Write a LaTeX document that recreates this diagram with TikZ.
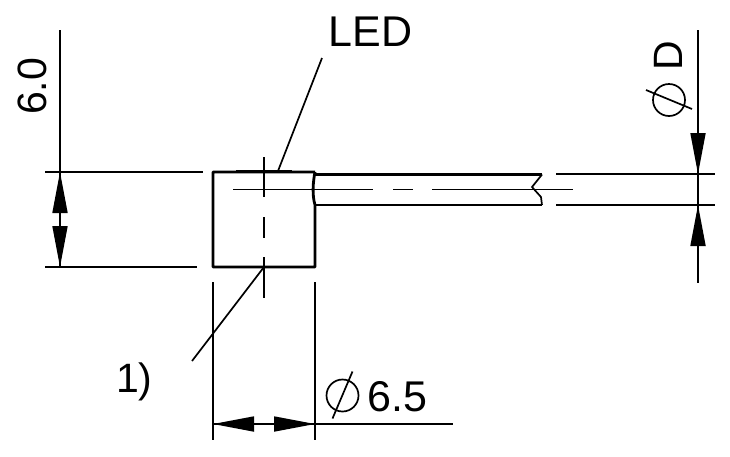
\documentclass[tikz,border=0pt]{standalone}
\usepackage{fontspec}
\setmainfont{Liberation Sans}
\usetikzlibrary{calc, arrows.meta}

\tikzset{
	outline/.style={line width=2.8pt, line join=round},
	thinline/.style={line width=1.7pt},
	dimarrow/.style={line width=1.7pt, -{Triangle[length=41pt, width=15pt]}},
	label/.style={inner sep=0pt, anchor=base west, font=\fontsize{41}{41}\selectfont},
	widelabel/.style={label, font=\fontsize{43}{43}\selectfont},
	diameter/.style={draw, circle, line width=1.7pt, inner sep=0pt, minimum size=32pt}
}

\begin{document}
\begin{tikzpicture}[x=1pt, y=-1pt]
	\useasboundingbox (0,0) rectangle (730,456);

	\coordinate (BodyTopLeft) at (213,172);
	\coordinate (BodyTopRight) at (315,172);
	\coordinate (BodyBottomLeft) at (213,267);
	\coordinate (BodyBottomRight) at (315,267);
	\coordinate (BodyCenter) at (264,190);
	\coordinate (BodyFoot) at (264,267);
	\coordinate (LedPoint) at (278,171);

	% body and cable
	\draw[outline] (BodyTopRight) -- (BodyTopLeft) -- (BodyBottomLeft) -- (BodyBottomRight) -- (315,205) .. controls (312,195) and (313,182) .. (BodyTopRight);
	\draw[thinline, line width=2pt] (236,170.5) -- (292,170.5);
	\coordinate (CableEndTop) at (542,174.5);
	\coordinate (CableEndBottom) at (542,205);
	\draw[outline] (315,174.5) -- (CableEndTop);
	\draw[outline] (315,205) -- (CableEndBottom);
	\draw[thinline] (CableEndTop) -- (532,187) -- (541,197) -- (CableEndBottom);

	% center lines
	\draw[thinline] (264,157) -- (264,197);
	\draw[thinline] (264,217) -- (264,238);
	\draw[thinline] (264,257) -- (264,298);
	\draw[thinline] (233,189.5) -- (373,189.5);
	\draw[thinline] (393,189.5) -- (413,189.5);
	\draw[thinline] (432,189.5) -- (573,189.5);

	% height
	\node (Height) at (46.5,115) [label, rotate=90]{6.0};
	\draw[thinline] (45,172) -- (203,172);
	\draw[thinline] (45,267) -- (197,267);
	\draw[thinline] (60,30) -- (60,267);
	\draw[dimarrow] (60,213) -- (60,172);
	\draw[dimarrow] (60,226) -- (60,267);

	% cable diameter
	\node (CablePhi) at (669,100) [diameter]{};
	\node (CableSize) at (682,71) [label, rotate=90]{D};
	\draw[thinline] ($(CablePhi)+(-23,-10)$) -- ($(CablePhi)+(23,9)$);
	\draw[thinline] (556,174) -- (715,174);
	\draw[thinline] (556,205) -- (715,205);
	\draw[thinline] (698,30) -- (698,283);
	\draw[dimarrow] (698,134) -- (698,174);
	\draw[dimarrow] (698,245) -- (698,205);

	% body diameter
	\node (BodyPhi) at (342.5,395.5) [diameter]{};
	\node (BodySize) at (367,411.5) [widelabel]{6.5};
	\draw[thinline] ($(BodyPhi)+(10,-24)$) -- ($(BodyPhi)+(-10,23)$);
	\draw[thinline] (213,282) -- (213,440);
	\draw[thinline] (315,282) -- (315,440);
	\draw[thinline] (213,424) -- (453,424);
	\draw[dimarrow] (254,424) -- (213,424);
	\draw[dimarrow] (274,424) -- (315,424);

	% labels
	\node (Led) at (328.5,46) [widelabel]{LED};
	\draw[thinline] (322,58) -- (LedPoint);
	\node (Note) at (116,392) [label]{1)};
	\draw[thinline] (192,361) -- (BodyFoot);
\end{tikzpicture}
\end{document}
